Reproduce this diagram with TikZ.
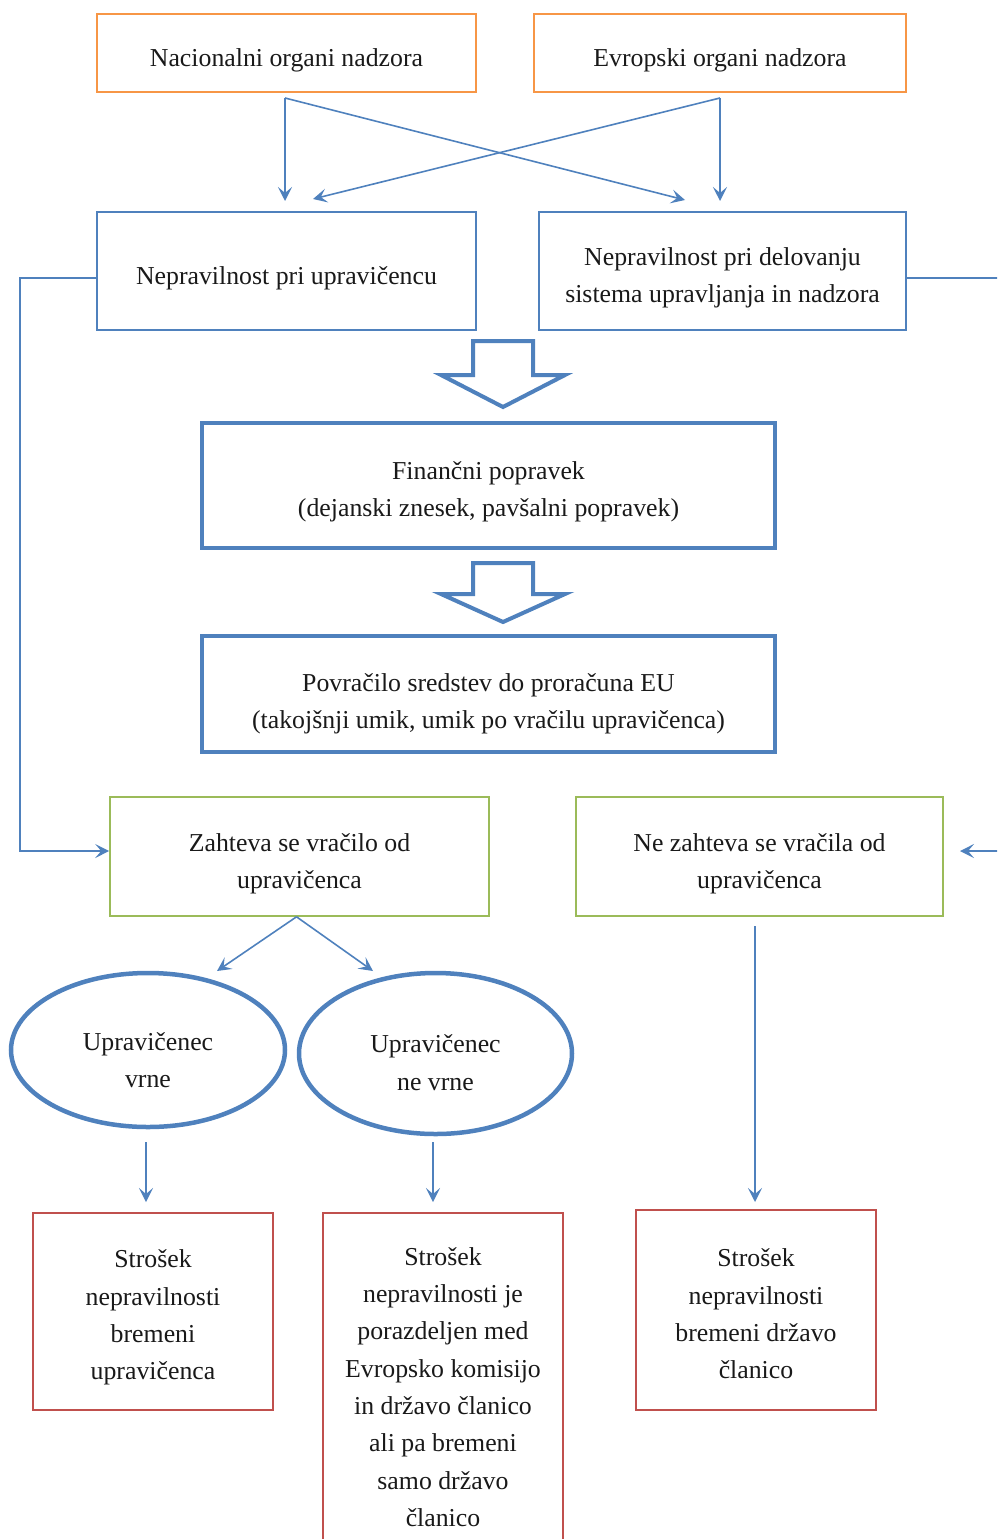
\documentclass[tikz,border=0pt]{standalone}
\usepackage{fontspec}
\setmainfont{Liberation Serif}
\usetikzlibrary{arrows.meta,shapes.geometric}

\definecolor{cOrange}{HTML}{F79646}
\definecolor{cBlue}{HTML}{4F81BD}
\definecolor{cGreen}{HTML}{9BBB59}
\definecolor{cRed}{HTML}{C0504D}

\tikzset{
  txt/.style={font=\fontsize{25.8}{37.3}\selectfont, align=center, text=black!90, inner sep=0pt},
  thinbox/.style={draw, line width=1.6pt, minimum width=#1, inner sep=0pt},
  orangebox/.style={thinbox=#1, draw=cOrange},
  bluebox/.style={thinbox=#1, draw=cBlue},
  greenbox/.style={thinbox=#1, draw=cGreen},
  redbox/.style={thinbox=#1, draw=cRed},
  heavybox/.style={draw=cBlue, line width=4pt, minimum width=#1, inner sep=0pt},
  oval/.style={ellipse, draw=cBlue, line width=4.5pt, inner sep=0pt},
  tip/.style={-{Stealth[length=14pt,width=14pt,inset=6pt]}},
  conn/.style={draw=cBlue, line width=1.6pt, tip},
  bline/.style={draw=cBlue, line width=1.8pt},
  blockarrow/.style={draw=cBlue, fill=white, line width=4pt, line join=miter}
}

\begin{document}
\begin{tikzpicture}[x=1pt, y=-1pt]
\useasboundingbox (0,0) rectangle (997,1539);
\clip (0,0) rectangle (997,1539);

% supervisory bodies
\node[orangebox=379pt, minimum height=78pt] (A) at (286.5,53) {};
\node[txt] (At) at ([yshift=-7pt]A.center) {Nacionalni organi nadzora};
\node[orangebox=372pt, minimum height=78pt] (B) at (720,53) {};
\node[txt] (Bt) at ([yshift=-7pt]B.center) {Evropski organi nadzora};

% kinds of irregularity
\node[bluebox=379pt, minimum height=118pt] (C) at (286.5,271) {};
\node[txt] (Ct) at ([yshift=-7pt]C.center) {Nepravilnost pri upravičencu};
\node[bluebox=367pt, minimum height=118pt] (D) at (722.5,271) {};
\node[txt] (Dt) at ([yshift=-7pt]D.center) {Nepravilnost pri delovanju\\sistema upravljanja in nadzora};

% crossing arrows from the bodies
\coordinate (a1) at (285,98);
\coordinate (b1) at (720,98);
\coordinate (cIn) at (313,199);
\coordinate (dIn) at (685,200);
\draw[conn] (a1) -- (285,201);
\draw[conn] (a1) -- (dIn);
\draw[conn] (b1) -- (720,201);
\draw[conn] (b1) -- (cIn);

% financial correction and recovery
\node[heavybox=573pt, minimum height=125pt] (F) at (488.5,485.5) {};
\node[txt] (Ft) at ([yshift=-6.5pt]F.center) {Finančni popravek\\(dejanski znesek, pavšalni popravek)};
\node[heavybox=573pt, minimum height=116pt] (G) at (488.5,694) {};
\node[txt] (Gt) at ([yshift=-10pt]G.center) {Povračilo sredstev do proračuna EU\\(takojšnji umik, umik po vračilu upravičenca)};

% hollow block arrows
\draw[blockarrow] (473,341) -- (533,341) -- (533,375) -- (565,375) -- (503,407)
  -- (441,375) -- (473,375) -- cycle;
\draw[blockarrow] (473,563) -- (533,563) -- (533,594) -- (565,594) -- (503,622)
  -- (441,594) -- (473,594) -- cycle;

% recovery requested or not
\node[greenbox=379pt, minimum height=119pt] (E) at (299.5,856.5) {};
\node[txt] (Et) at ([yshift=-7.5pt]E.center) {Zahteva se vračilo od\\upravičenca};
\node[greenbox=367pt, minimum height=119pt] (H) at (759.5,856.5) {};
\node[txt] (Ht) at ([yshift=-7.5pt]H.center) {Ne zahteva se vračila od\\upravičenca};

% side connectors
\draw[bline, tip]
  ([yshift=-7pt]C.west) -- (20,278) |- ([yshift=5.5pt]E.west);
\coordinate (rEnd) at (960,851);
\draw[bline] ([yshift=-7pt]D.east) -- (1012,278) -- (1012,851);
\draw[conn] (1012,851) -- (rEnd);

% beneficiary outcome
\node[oval, minimum width=274pt, minimum height=154pt] (O1) at (148,1050) {};
\node[txt] (O1t) at ([yshift=-10pt]O1.center) {Upravičenec\\vrne};
\node[oval, minimum width=273pt, minimum height=161pt] (O2) at (435.5,1053.5) {};
\node[txt] (O2t) at ([yshift=-9pt]O2.center) {Upravičenec\\ne vrne};
\coordinate (o1In) at (217,971);
\coordinate (o2In) at (373,971);
\draw[conn] ([xshift=-3pt]E.south) -- (o1In);
\draw[conn] ([xshift=-3pt]E.south) -- (o2In);

% who bears the cost
\node[redbox=240pt, minimum height=197pt] (I) at (153,1311.5) {};
\node[txt] (It) at ([yshift=-6pt]I.center) {Strošek\\nepravilnosti\\bremeni\\upravičenca};
\node[redbox=240pt, minimum height=348pt] (J) at (443,1387) {};
\node[txt] (Jt) at (J.center) {Strošek\\nepravilnosti je\\porazdeljen med\\Evropsko komisijo\\in državo članico\\ali pa bremeni\\samo državo\\članico};
\node[redbox=240pt, minimum height=200pt] (K) at (756,1310) {};
\node[txt] (Kt) at ([yshift=-4pt]K.center) {Strošek\\nepravilnosti\\bremeni državo\\članico};

\coordinate (o1Out) at (146,1142);
\coordinate (iIn) at (146,1202);
\coordinate (o2Out) at (433,1142);
\coordinate (jIn) at (433,1202);
\coordinate (hOut) at (755,926);
\coordinate (kIn) at (755,1202);
\draw[conn] (o1Out) -- (iIn);
\draw[conn] (o2Out) -- (jIn);
\draw[conn] (hOut) -- (kIn);
\end{tikzpicture}
\end{document}
